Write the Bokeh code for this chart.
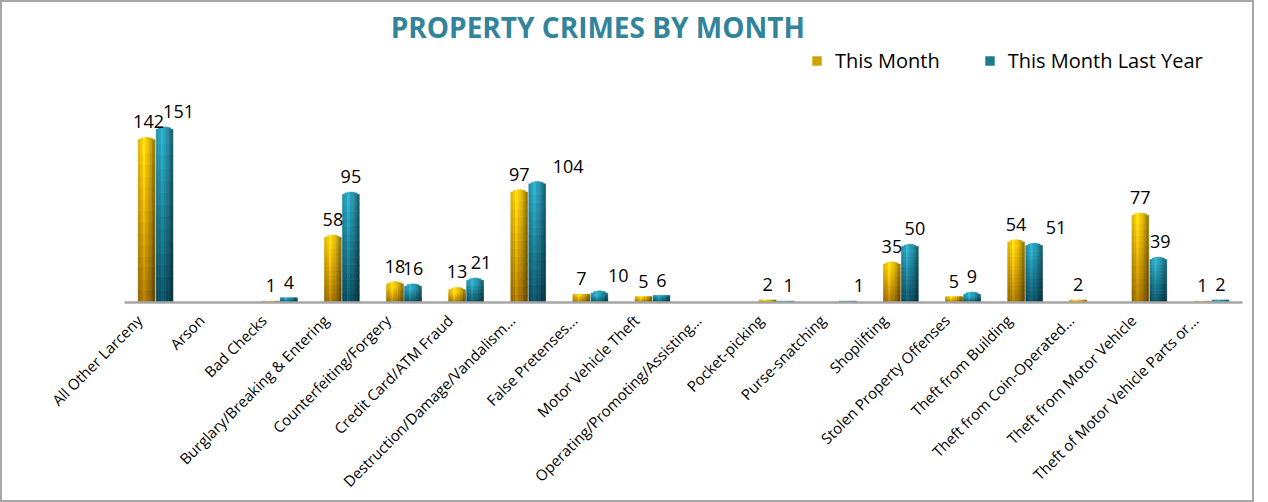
import numpy as np
from bokeh.plotting import figure
from bokeh.models import ColumnDataSource, FixedTicker, Legend, LegendItem, Label, CustomJSTickFormatter
from bokeh.core.properties import value
from bokeh.embed import file_html
from bokeh.resources import INLINE

# ---------------- data ----------------
categories = [
    "All Other Larceny", "Arson", "Bad Checks", "Burglary/Breaking & Entering",
    "Counterfeiting/Forgery", "Credit Card/ATM Fraud", "Destruction/Damage/Vandalism...",
    "False Pretenses...", "Motor Vehicle Theft", "Operating/Promoting/Assisting...",
    "Pocket-picking", "Purse-snatching", "Shoplifting", "Stolen Property Offenses",
    "Theft from Building", "Theft from Coin-Operated...", "Theft from Motor Vehicle",
    "Theft of Motor Vehicle Parts or...",
]
this_month = [142, 0, 1, 58, 18, 13, 97, 7, 5, 0, 2, 0, 35, 5, 54, 2, 77, 1]
last_year = [151, 0, 4, 95, 16, 21, 104, 10, 6, 0, 1, 1, 50, 9, 51, 0, 39, 2]
series_names = ["This Month", "This Month Last Year"]

# label nudges (px) used by the original chart's label placement
this_dx = [2, 0, 0, 0, 0, 0, 0, 0, 0, 0, 0, 0, 0, 0, 0, 0, 0, 0]
last_dx = [14, 0, 0, 0, 0, 6, 31, 19, 0, 0, 3, 11, 5, 0, 22, 0, 2, 0]

# ---------------- style ----------------
FONT = "Open Sans"
TITLE_COLOR = "#31849B"
top_cols = [(255, 208, 10), (42, 166, 194)]
bot_cols = [(166, 116, 0), (10, 80, 98)]
offsets = [-0.145, 0.145]
bar_w = 0.27
N_V = 14   # vertical gradient segments
N_H = 7    # horizontal cylinder stripes
CAP = 4.0  # dome height of the bar tops (value units)
TICK_SHIFT = -0.26

def hexc(rgb):
    return "#%02x%02x%02x" % tuple(int(max(0, min(255, round(c)))) for c in rgb)

p = figure(frame_width=1118, frame_height=293, output_backend="svg", toolbar_location=None,
           x_range=(-0.5, 17.5), y_range=(0, 252), min_border_left=122,
           min_border_right=10, min_border_top=7, min_border_bottom=150,
           background_fill_color="white", border_fill_color="white")
p.outline_line_color = None
p.grid.visible = False
p.yaxis.visible = False
p.styles = {"border": "2px solid #a6a6a6"}

renderers = []
for si, vals in enumerate([this_month, last_year]):
    xs, bots, tops, cols = [], [], [], []
    sw = bar_w / N_H
    for i, v in enumerate(vals):
        if v <= 0:
            continue
        cap = CAP if v > 2 * CAP else 0.0
        body = v - cap
        for h in range(N_H):
            s = (h + 0.5) / N_H * 2 - 1  # -1..1
            shade = 1.0 - 0.32 * (s + 0.25) ** 2
            shade = max(0.55, shade) + (0.12 if abs(s + 0.3) < 0.2 else 0)
            dome = cap * np.sqrt(max(0.0, 1 - s * s))
            for k in range(N_V):
                t = (k + 0.5) / N_V
                base = [bot_cols[si][c] + (top_cols[si][c] - bot_cols[si][c]) * t for c in range(3)]
                col = [b * shade for b in base]
                xs.append(i + offsets[si] - bar_w / 2 + (h + 0.5) * sw)
                bots.append(body * k / N_V)
                tops.append(body * (k + 1) / N_V + (dome if k == N_V - 1 else 0))
                cols.append(hexc(col))
    src = ColumnDataSource(dict(x=xs, bottom=bots, top=tops, color=cols))
    r = p.vbar(x="x", bottom="bottom", top="top", width=sw, source=src,
               fill_color="color", line_color="color", line_width=0.6)
    renderers.append(r)

# data labels
for si, (vals, dx) in enumerate([(this_month, this_dx), (last_year, last_dx)]):
    lx = [i + offsets[si] for i, v in enumerate(vals) if v > 0]
    ly = [v for v in vals if v > 0]
    lt = [str(v) for v in vals if v > 0]
    ldx = [dx[i] for i, v in enumerate(vals) if v > 0]
    src = ColumnDataSource(dict(x=lx, y=ly, t=lt, dx=ldx))
    p.text(x="x", y="y", text="t", source=src, x_offset="dx", y_offset=-9,
           text_align="center", text_baseline="bottom", text_font=value(FONT),
           text_font_size="18px", text_color="#000000")

# x axis
p.xaxis.ticker = FixedTicker(ticks=[i + TICK_SHIFT for i in range(len(categories))])
p.xaxis.formatter = CustomJSTickFormatter(args=dict(labels=categories),
                                          code="return labels[index];")
p.xaxis.major_label_orientation = np.pi / 4
p.xaxis.major_label_text_font = FONT
p.xaxis.major_label_text_font_size = "15px"
p.xaxis.major_label_text_color = "#000000"
p.xaxis.major_label_standoff = 9
p.xaxis.axis_line_color = "#a6a6a6"
p.xaxis.axis_line_width = 2.5
p.xaxis.major_tick_line_color = None
p.xaxis.minor_tick_line_color = None

# title
title = Label(x=7.12, y=237, text="PROPERTY CRIMES BY MONTH", text_align="center",
              text_baseline="middle", text_font=FONT, text_font_style="bold",
              text_font_size="28px", text_color=TITLE_COLOR)
p.add_layout(title)

# legend
items = [LegendItem(label=series_names[0], renderers=[renderers[0]], index=N_V * 3 + N_V // 2),
         LegendItem(label=series_names[1], renderers=[renderers[1]], index=N_V * 3 + N_V // 2)]
legend = Legend(items=items, orientation="horizontal", location=(687, 228),
                label_text_font=FONT, label_text_font_size="20px",
                label_text_color="#000000", glyph_width=11, glyph_height=11,
                label_standoff=13, spacing=44, padding=2, margin=0,
                border_line_color=None, background_fill_alpha=0)
p.add_layout(legend)

open("out.html", "w").write(file_html(p, INLINE))
